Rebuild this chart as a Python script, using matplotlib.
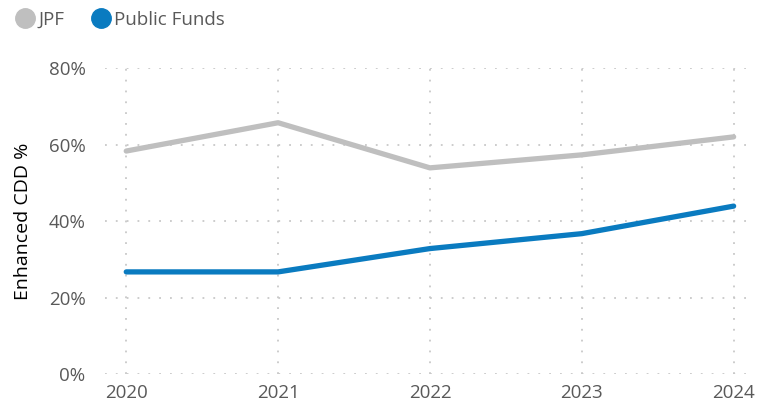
import matplotlib.pyplot as plt
from matplotlib.ticker import PercentFormatter

# Enhanced CDD share by year
years = [2020, 2021, 2022, 2023, 2024]
jpf = [58.3, 65.7, 53.9, 57.3, 62.0]
public_funds = [26.7, 26.7, 32.8, 36.7, 43.9]

grey = '#BFBFBF'
blue = '#0A7BC0'
text_grey = '#595959'

plt.rcParams['font.family'] = ['Open Sans', 'DejaVu Sans']

fig = plt.figure(figsize=(7.72, 4.05), dpi=100)
ax = fig.add_axes([0.136, 0.0765, 0.832, 0.7555])

ax.plot(years, jpf, color=grey, lw=3.8, solid_capstyle='round',
        solid_joinstyle='round', label='JPF', zorder=3)
ax.plot(years, public_funds, color=blue, lw=3.8, solid_capstyle='round',
        solid_joinstyle='round', label='Public Funds', zorder=3)

ax.set_ylim(0, 80)
ax.set_xlim(2019.86, 2024.09)
ax.set_yticks([0, 20, 40, 60, 80])
ax.set_xticks(years)
ax.yaxis.set_major_formatter(PercentFormatter(decimals=0))

ax.grid(True, color='#C8C8C8', linestyle=(0, (1, 5)), linewidth=1.3)
ax.set_axisbelow(True)
for s in ax.spines.values():
    s.set_visible(False)
ax.tick_params(length=0, labelsize=13.5, labelcolor=text_grey)
ax.tick_params(axis='y', pad=14)
ax.tick_params(axis='x', pad=7)

ax.set_ylabel('Enhanced CDD %', fontsize=14, color='black', labelpad=12)

leg = fig.legend(loc='upper left', bbox_to_anchor=(0.0, 1.015), ncol=2,
                 frameon=False, fontsize=13.5, handlelength=0.9,
                 handletextpad=0.25, columnspacing=1.5, labelcolor=text_grey)
for h, c in zip(leg.legend_handles, [grey, blue]):
    h.set_linestyle('None')
    h.set_marker('o')
    h.set_markersize(14)
    h.set_markerfacecolor(c)
    h.set_markeredgecolor(c)

fig.savefig('out.png', dpi=100)
